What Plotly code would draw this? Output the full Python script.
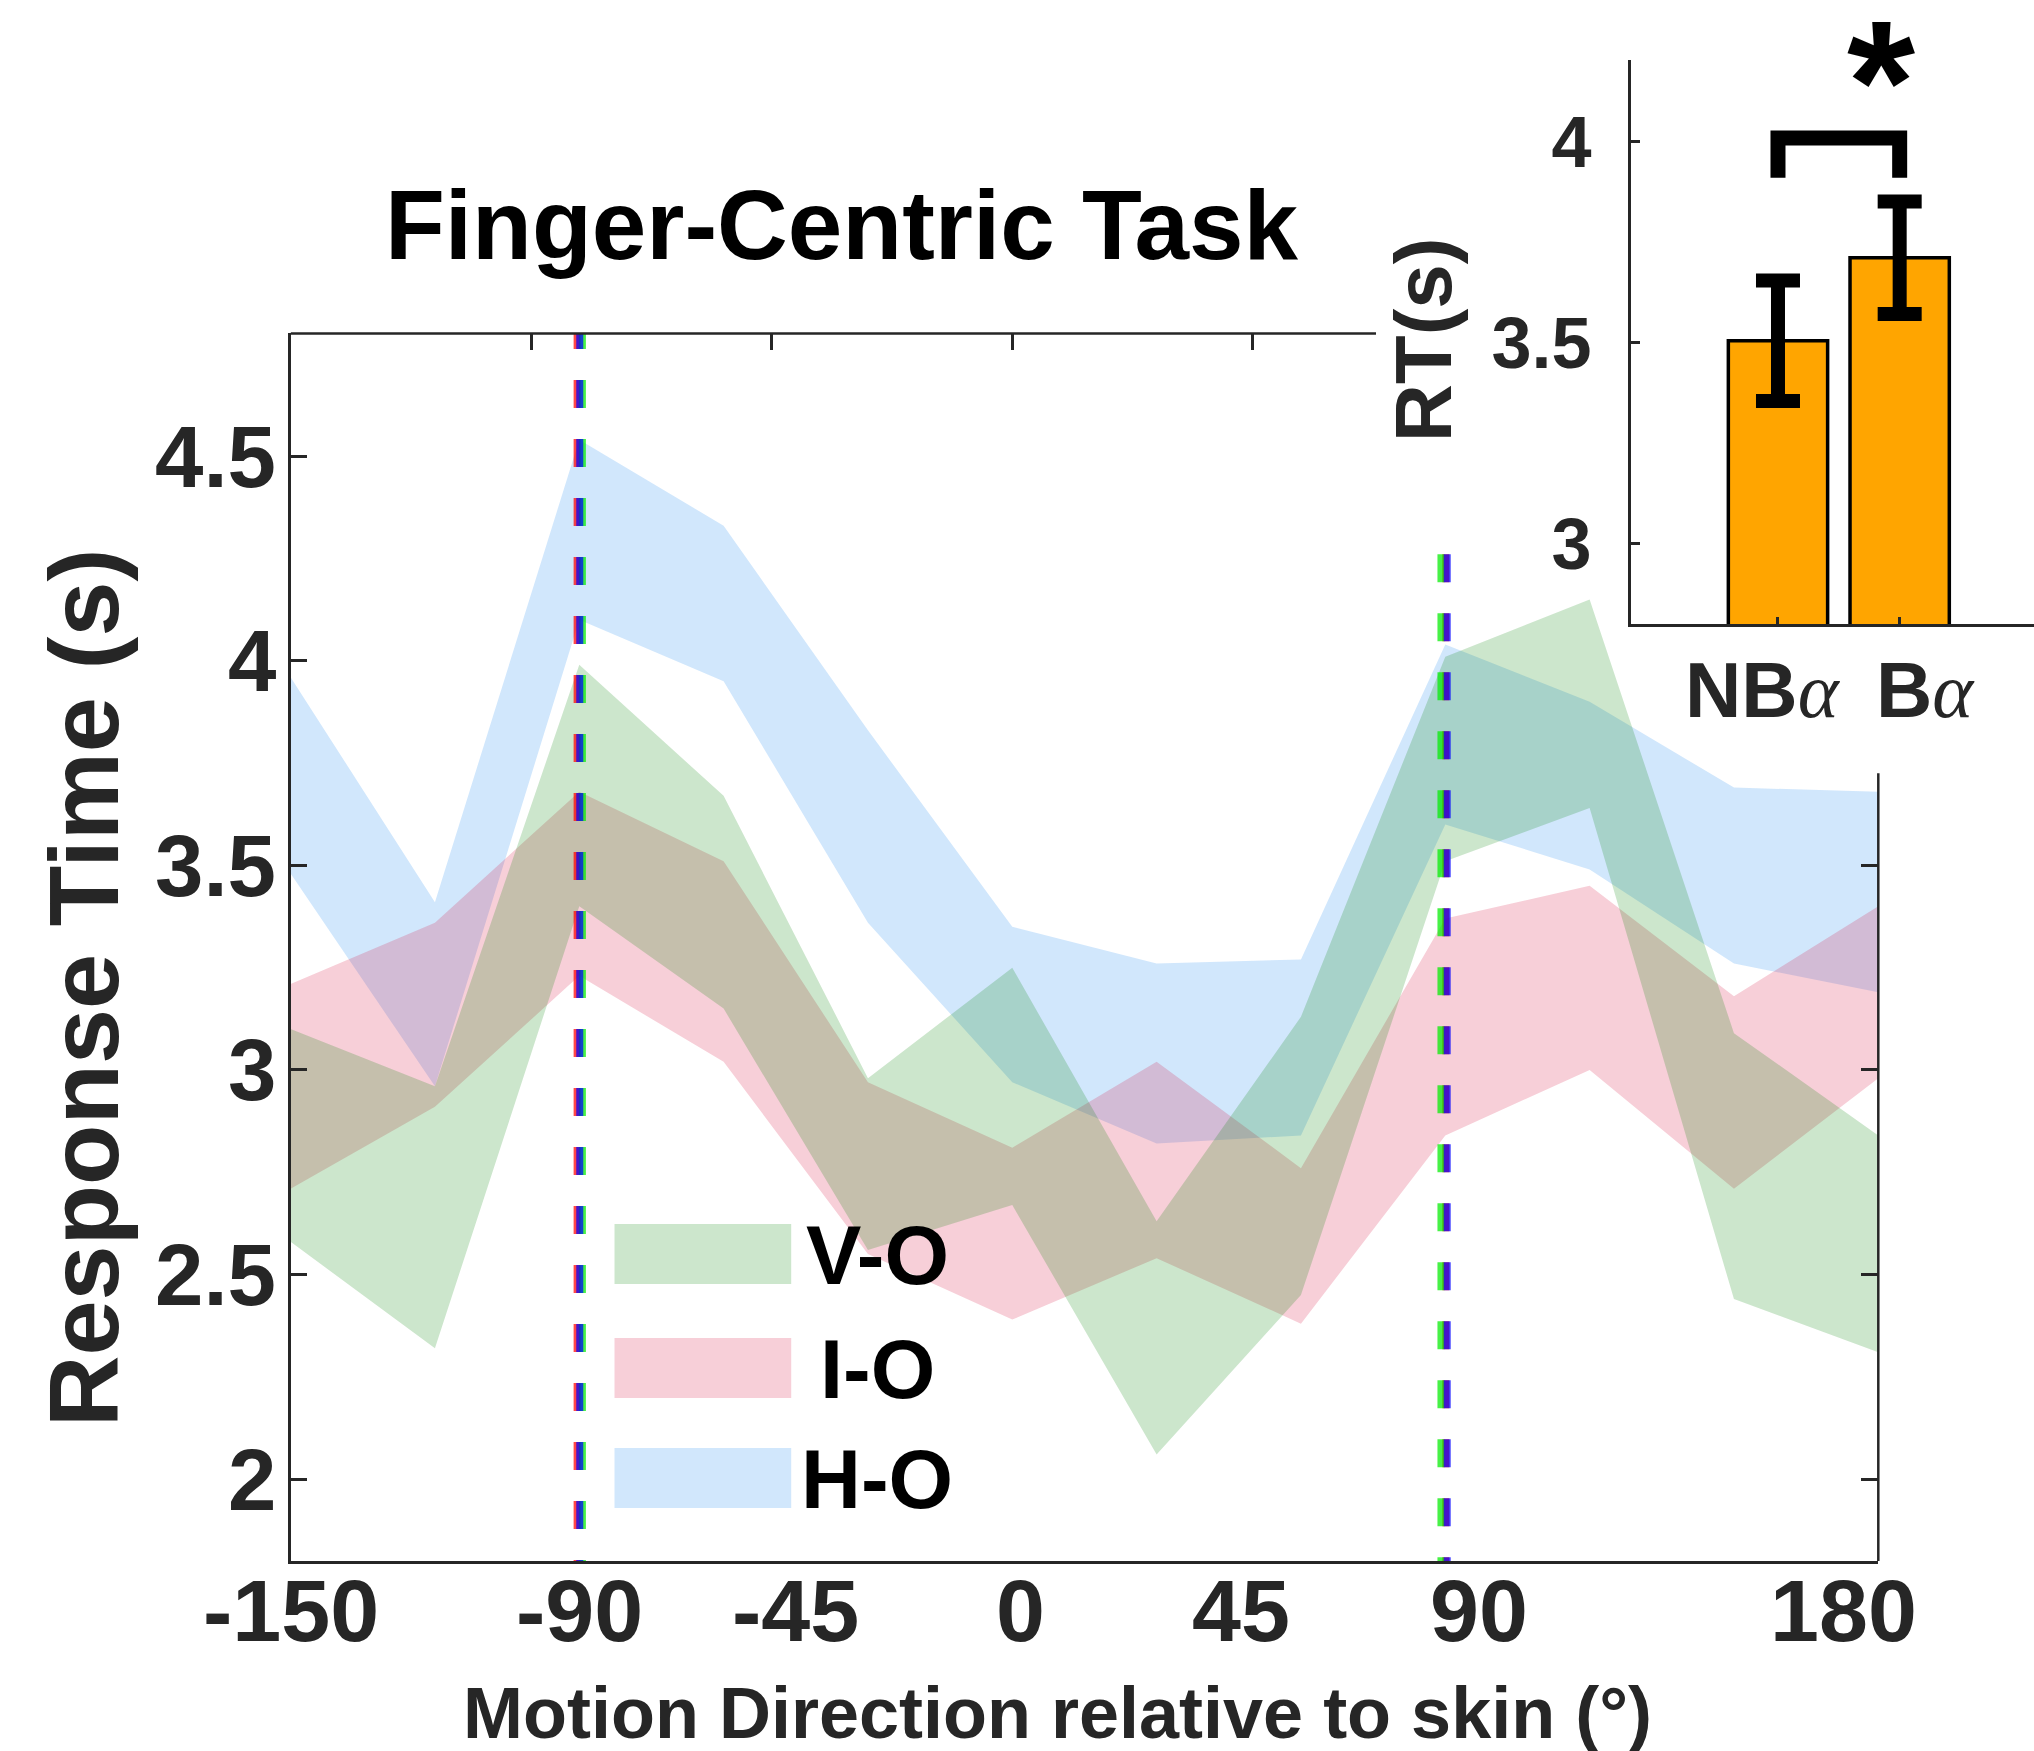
import plotly.graph_objects as go

W, H = 2034, 1751

# ---- main panel data (band = mean +/- error) ----
angles = [-150, -120, -90, -60, -30, 0, 30, 60, 90, 120, 150, 180]

vo_upper = [3.10, 2.96, 3.99, 3.67, 2.98, 3.25, 2.63, 3.13, 4.01, 4.15, 3.09, 2.84]
vo_lower = [2.58, 2.32, 3.40, 3.15, 2.56, 2.67, 2.06, 2.45, 3.51, 3.64, 2.44, 2.31]
io_upper = [3.21, 3.36, 3.68, 3.51, 2.97, 2.81, 3.02, 2.76, 3.37, 3.45, 3.18, 3.40]
io_lower = [2.71, 2.91, 3.23, 3.02, 2.55, 2.39, 2.54, 2.38, 2.84, 3.00, 2.71, 2.98]
ho_upper = [3.96, 3.41, 4.54, 4.33, 3.83, 3.35, 3.26, 3.27, 4.04, 3.90, 3.69, 3.68]
ho_lower = [3.48, 2.96, 4.10, 3.95, 3.36, 2.97, 2.82, 2.84, 3.60, 3.49, 3.26, 3.19]

groups = ["V-O", "I-O", "H-O"]
bands = {"V-O": (vo_upper, vo_lower), "I-O": (io_upper, io_lower), "H-O": (ho_upper, ho_lower)}
fill_colors = {"V-O": "rgba(0,128,0,0.2)", "I-O": "rgba(215,15,60,0.2)", "H-O": "rgba(25,135,240,0.2)"}

xtick_pos = [-150, -90, -45, 1.8, 47.6, 97, 172.7]
xtick_text = ["-150", "-90", "-45", "0", "45", "90", "180"]
ytick_vals = [2, 2.5, 3, 3.5, 4, 4.5]
ytick_text = ["2", "2.5", "3", "3.5", "4", "4.5"]
top_ticks = [-100, -50, 0, 50]
right_ticks = [2, 2.5, 3, 3.5]

# dashed markers at -90 / +90 (red, green, blue)
vline_colors = ["rgba(255,0,0,0.72)", "rgba(0,235,0,0.72)", "rgba(0,0,255,0.72)"]
vline_neg = [-90.45, -89.35, -89.9]
vline_pos = [90.1, 89.1, 90.4]
vline_top = [4.83, 4.26]

# ---- inset data ----
ALPHA = "<span style=\"font-family:'Liberation Serif';font-style:italic;font-weight:normal\">α</span>"
bar_labels = ["NB" + ALPHA, "B" + ALPHA]
bar_pos = [1, 2]
bar_label_pos = [0.877, 2.216]
bar_means = [3.505, 3.712]
bar_err = [0.15, 0.14]
inset_ticks = [3, 3.5, 4]
inset_ticktext = ["3", "3.5", "4"]

FONT = "Liberation Sans, Arial, sans-serif"
DARK = "#262626"


def px(x):
    return x / W


def py(y):
    return 1 - y / H


fig = go.Figure()

# bands, H-O drawn first so the others sit on top of it
for g in ["H-O", "I-O", "V-O"]:
    up, lo = bands[g]
    fig.add_trace(go.Scatter(
        x=angles + angles[::-1], y=up + lo[::-1],
        fill="toself", fillcolor=fill_colors[g], line=dict(width=0),
        mode="lines", name=g, showlegend=False, hoverinfo="skip"))

for xs, top in zip([vline_neg, vline_pos], vline_top):
    for xv, col in zip(xs, vline_colors):
        fig.add_trace(go.Scatter(
            x=[xv, xv], y=[top, 1.8], mode="lines",
            line=dict(color=col, width=7, dash="28px,31px"),
            showlegend=False, hoverinfo="skip"))

# empty trace so the overlay axes (top / right ticks) are drawn
fig.add_trace(go.Scatter(x=[None], y=[None], xaxis="x3", yaxis="y3",
                         showlegend=False, hoverinfo="skip"))

# inset bars
fig.add_trace(go.Bar(
    x=bar_pos, y=bar_means, width=0.816, xaxis="x2", yaxis="y2",
    marker=dict(color="#FFA500", line=dict(color="black", width=3.5)),
    error_y=dict(type="data", array=bar_err, color="black", thickness=14, width=22),
    showlegend=False, hoverinfo="skip"))
fig.add_trace(go.Scatter(
    x=[bar_pos[0], bar_pos[0], bar_pos[1], bar_pos[1]], y=[3.911, 4.01, 4.01, 3.911],
    mode="lines", line=dict(color="black", width=15), xaxis="x2", yaxis="y2",
    showlegend=False, hoverinfo="skip"))

axis_common = dict(showgrid=False, zeroline=False, automargin=False)

fig.update_layout(
    width=W, height=H, autosize=False,
    margin=dict(l=0, r=0, t=0, b=0),
    paper_bgcolor="white", plot_bgcolor="white",
    font=dict(family=FONT, color=DARK),
    xaxis=dict(domain=[px(290.6), px(1878.3)], range=[-150, 180], anchor="y",
               showticklabels=False, ticks="",
               showline=True, linecolor=DARK, linewidth=2.5, **axis_common),
    yaxis=dict(domain=[py(1561), py(333.4)], range=[1.8, 4.8], anchor="x",
               tickmode="array", tickvals=ytick_vals, showticklabels=False,
               ticks="inside", ticklen=17, tickwidth=2.5, tickcolor=DARK,
               showline=True, linecolor=DARK, linewidth=2.5, **axis_common),
    xaxis3=dict(overlaying="x", side="top", anchor="y", range=[-150, 180],
                tickmode="array", tickvals=top_ticks, ticks="inside", ticklen=17,
                tickwidth=2.5, tickcolor=DARK, showticklabels=False, showline=False,
                **axis_common),
    yaxis3=dict(overlaying="y", side="right", anchor="x", range=[1.8, 4.8],
                tickmode="array", tickvals=right_ticks, ticks="inside", ticklen=17,
                tickwidth=2.5, tickcolor=DARK, showticklabels=False, showline=False,
                **axis_common),
    xaxis2=dict(domain=[px(1631), 1.0], range=[-0.208, 3.104], anchor="y2",
                tickmode="array", tickvals=bar_pos, ticks="inside", ticklen=7,
                tickwidth=2.5, tickcolor=DARK, showticklabels=False,
                showline=True, linecolor=DARK, linewidth=3, **axis_common),
    yaxis2=dict(domain=[py(624), py(60)], range=[2.8, 4.204], anchor="x2",
                tickmode="array", tickvals=inset_ticks, ticktext=inset_ticktext,
                ticks="inside", ticklen=9, tickwidth=2.5, tickcolor=DARK,
                showline=True, linecolor=DARK, linewidth=3, ticklabelstandoff=22,
                tickfont=dict(size=72, color=DARK, family=FONT, weight="bold"), **axis_common),
)

# tick labels of the main axes (placed where the figure shows them)
for xv, t in zip(xtick_pos, xtick_text):
    fig.add_annotation(x=xv, y=py(1610), xref="x", yref="paper", text=t,
                       showarrow=False, xanchor="center", yanchor="middle",
                       font=dict(size=88, color=DARK, family=FONT, weight="bold"))
for yv, t in zip(ytick_vals, ytick_text):
    fig.add_annotation(x=px(278), y=yv, xref="paper", yref="y", text=t,
                       showarrow=False, xanchor="right", yanchor="middle",
                       font=dict(size=87, color=DARK, family=FONT, weight="bold"))

# partial box lines of the main axes (hidden behind the inset area)
fig.add_shape(type="line", xref="x", yref="y domain", x0=-150, x1=75.6, y0=1, y1=1,
              line=dict(color=DARK, width=2.5))
fig.add_shape(type="line", xref="x domain", yref="y", x0=1, x1=1, y0=1.8, y1=3.725,
              line=dict(color=DARK, width=2.5))

# legend drawn by hand (large swatches as in the figure)
leg_rows = [(1224, 1284), (1338, 1398), (1448, 1508)]
for g, (t, b) in zip(groups, leg_rows):
    fig.add_shape(type="rect", xref="paper", yref="paper",
                  x0=px(614.5), x1=px(791.2), y0=py(b), y1=py(t),
                  fillcolor=fill_colors[g], line=dict(width=0), layer="above")
    fig.add_annotation(x=px(877), y=py((t + b) / 2 + 1), xref="paper", yref="paper",
                       text=g, showarrow=False, xanchor="center", yanchor="middle",
                       font=dict(size=83, color="black", family=FONT, weight="bold"))

for lab, xp in zip(bar_labels, bar_label_pos):
    fig.add_annotation(x=xp, y=py(690), xref="x2", yref="paper", text=lab,
                       showarrow=False, xanchor="center", yanchor="middle",
                       font=dict(size=78, color=DARK, family=FONT, weight="bold"))

fig.add_annotation(x=px(842), y=py(225), xref="paper", yref="paper",
                   text="Finger-Centric Task", showarrow=False,
                   xanchor="center", yanchor="middle",
                   font=dict(size=98, color="black", family=FONT, weight="bold"))
fig.add_annotation(x=px(83), y=py(988), xref="paper", yref="paper",
                   text="Response Time (s)", textangle=-90, showarrow=False,
                   xanchor="center", yanchor="middle",
                   font=dict(size=99, color=DARK, family=FONT, weight="bold"))
fig.add_annotation(x=px(1057), y=py(1713), xref="paper", yref="paper",
                   text="Motion Direction relative to skin (°)", showarrow=False,
                   xanchor="center", yanchor="middle",
                   font=dict(size=72, color=DARK, family=FONT, weight="bold"))
fig.add_annotation(x=px(1423), y=py(340), xref="paper", yref="paper",
                   text="RT(s)", textangle=-90, showarrow=False,
                   xanchor="center", yanchor="middle",
                   font=dict(size=80, color=DARK, family=FONT, weight="bold"))
fig.add_annotation(x=px(1881), y=py(82), xref="paper", yref="paper",
                   text="*", showarrow=False, xanchor="center", yanchor="middle",
                   font=dict(size=175, color="black", family=FONT, weight="bold"))

fig.write_html("out.html", config={"displayModeBar": False},
               post_script="document.body.style.margin='0px';")
